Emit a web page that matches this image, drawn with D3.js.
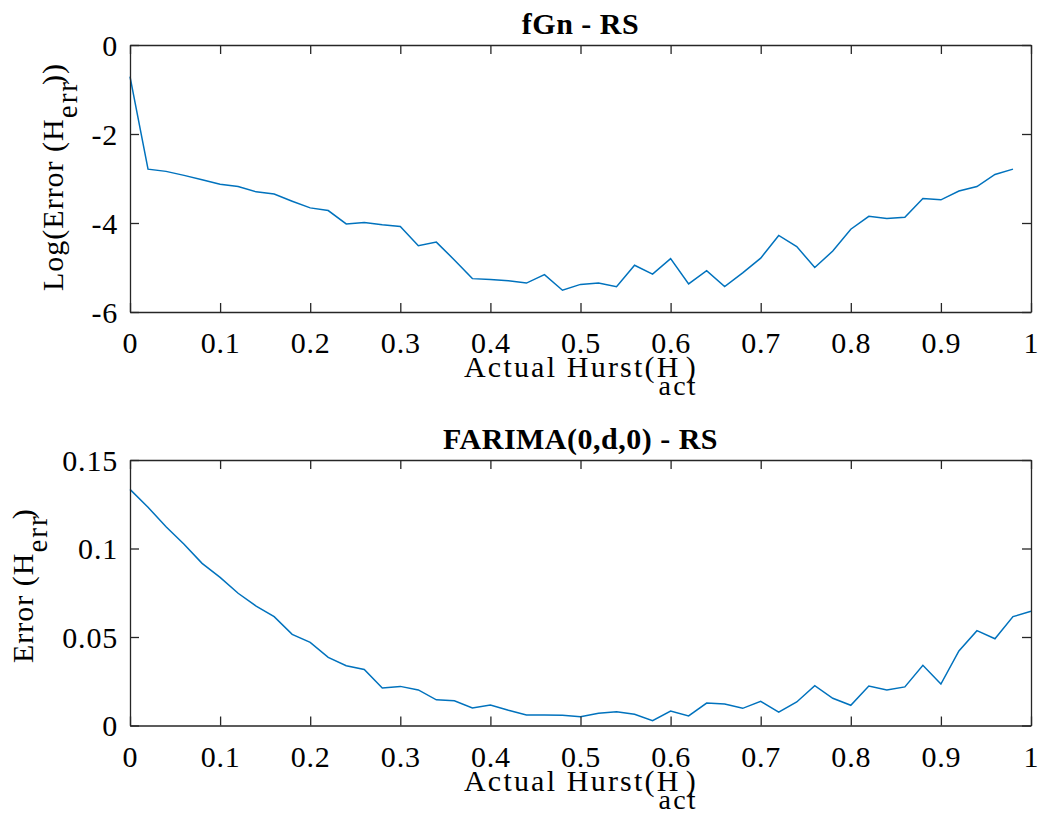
<!DOCTYPE html>
<html>
<head>
<meta charset="utf-8">
<script src="https://cdn.jsdelivr.net/npm/d3@7"></script>
<style>
  body { margin: 0; background: #fff; }
  svg { display: block; }
  .tick text { font-family: 'Liberation Serif', 'Times New Roman', serif; font-size: 30px; letter-spacing: 0.8px; fill: #000; }
  .lbl { font-family: 'Liberation Serif', 'Times New Roman', serif; font-size: 30px; fill: #000; }
  .ttl { font-family: 'Liberation Serif', 'Times New Roman', serif; font-size: 30px; font-weight: bold; letter-spacing: 0.5px; fill: #000; }
</style>
</head>
<body>
<script>
// fGn - RS : actual Hurst vs log error
var hurstTop = [0, 0.02, 0.04, 0.06, 0.08, 0.10, 0.12, 0.14, 0.16, 0.18,
  0.20, 0.22, 0.24, 0.26, 0.28, 0.30, 0.32, 0.34, 0.36, 0.38,
  0.40, 0.42, 0.44, 0.46, 0.48, 0.50, 0.52, 0.54, 0.56, 0.58,
  0.60, 0.62, 0.64, 0.66, 0.68, 0.70, 0.72, 0.74, 0.76, 0.78,
  0.80, 0.82, 0.84, 0.86, 0.88, 0.90, 0.92, 0.94, 0.96, 0.98];
var fgnLogErr = [-0.71, -2.79, -2.84, -2.93, -3.03, -3.13, -3.18, -3.30, -3.35, -3.51,
  -3.66, -3.72, -4.02, -3.99, -4.04, -4.08, -4.51, -4.43, -4.83, -5.25,
  -5.27, -5.30, -5.35, -5.16, -5.51, -5.38, -5.35, -5.43, -4.95, -5.15,
  -4.80, -5.37, -5.07, -5.43, -5.12, -4.79, -4.28, -4.53, -5.00, -4.63,
  -4.14, -3.85, -3.90, -3.87, -3.45, -3.48, -3.28, -3.18, -2.91, -2.79];

// FARIMA(0,d,0) - RS : actual Hurst vs error
var hurstBottom = [0, 0.02, 0.04, 0.06, 0.08, 0.10, 0.12, 0.14, 0.16, 0.18,
  0.20, 0.22, 0.24, 0.26, 0.28, 0.30, 0.32, 0.34, 0.36, 0.38,
  0.40, 0.42, 0.44, 0.46, 0.48, 0.50, 0.52, 0.54, 0.56, 0.58,
  0.60, 0.62, 0.64, 0.66, 0.68, 0.70, 0.72, 0.74, 0.76, 0.78,
  0.80, 0.82, 0.84, 0.86, 0.88, 0.90, 0.92, 0.94, 0.96, 0.98, 1.00];
var farimaErr = [0.1334, 0.1233, 0.1123, 0.1024, 0.0916, 0.0837, 0.0747, 0.0675, 0.0615, 0.0515,
  0.0470, 0.0385, 0.0338, 0.0317, 0.0212, 0.0221, 0.0201, 0.0145, 0.0140, 0.0099,
  0.0116, 0.0086, 0.0059, 0.0059, 0.0058, 0.0050, 0.0069, 0.0078, 0.0063, 0.0027,
  0.0082, 0.0054, 0.0127, 0.0122, 0.0097, 0.0137, 0.0075, 0.0133, 0.0225, 0.0154,
  0.0114, 0.0223, 0.0201, 0.0218, 0.0340, 0.0234, 0.0421, 0.0536, 0.0490, 0.0615, 0.0645];

var xTicks = [0, 0.1, 0.2, 0.3, 0.4, 0.5, 0.6, 0.7, 0.8, 0.9, 1];
var yTicksTop = [0, -2, -4, -6];
var yTicksBottom = [0, 0.05, 0.1, 0.15];

var W = 1038, H = 825;
var left = 130, right = 1031;

var svg = d3.select('body').append('svg')
  .attr('width', W)
  .attr('height', H);

function drawPanel(opts) {
  var x = d3.scaleLinear().domain([0, 1]).range([left, right]);
  var y = d3.scaleLinear().domain(opts.yDomain).range([opts.bottom, opts.top]);
  var g = svg.append('g');
  var fmt = function(d) { return String(d); };

  // data line
  var line = d3.line()
    .x(function(d) { return x(d[0]); })
    .y(function(d) { return y(d[1]); });
  g.append('path')
    .datum(d3.zip(opts.xs, opts.ys))
    .attr('d', line)
    .attr('fill', 'none')
    .attr('stroke', '#0072BD')
    .attr('stroke-width', 1.5);

  // box with inward ticks
  var xb = g.append('g').attr('transform', 'translate(0,' + opts.bottom + ')')
    .call(d3.axisBottom(x).tickValues(xTicks).tickSize(-9).tickSizeOuter(0).tickFormat(fmt));
  xb.selectAll('.tick text').attr('y', 20).attr('dy', '0.71em');
  g.append('g').attr('transform', 'translate(0,' + opts.top + ')')
    .call(d3.axisTop(x).tickValues(xTicks).tickSize(-9).tickSizeOuter(0).tickFormat(''));
  var yl = g.append('g').attr('transform', 'translate(' + left + ',0)')
    .call(d3.axisLeft(y).tickValues(opts.yTicks).tickSize(-9).tickSizeOuter(0).tickFormat(fmt));
  yl.selectAll('.tick text').attr('x', -12).attr('dy', '0.34em');
  g.append('g').attr('transform', 'translate(' + right + ',0)')
    .call(d3.axisRight(y).tickValues(opts.yTicks).tickSize(-9).tickSizeOuter(0).tickFormat(''));

  g.selectAll('.domain, .tick line').attr('stroke', '#262626').attr('stroke-width', 1.3);

  // title
  g.append('text').attr('class', 'ttl')
    .attr('x', (left + right) / 2).attr('y', opts.top - 11)
    .attr('text-anchor', 'middle')
    .text(opts.title);

  // x label (subscript tucked under the H, as in the original export)
  var xt = g.append('text').attr('class', 'lbl')
    .attr('x', 464).attr('y', opts.bottom + 65)
    .style('letter-spacing', '2.2px');
  xt.append('tspan').text('Actual Hurst(H');
  xt.append('tspan').attr('dy', 18).attr('dx', -22).style('font-size', '28px').text('act');
  xt.append('tspan').attr('dy', -18).attr('dx', -12).text(')');

  // y label
  var yt = g.append('text').attr('class', 'lbl')
    .attr('transform', 'translate(' + opts.yLabelX + ',' + opts.yLabelY + ') rotate(-90)')
    .style('letter-spacing', '1px');
  yt.append('tspan').text(opts.yLabel + '(H');
  yt.append('tspan').attr('dy', 14).style('font-size', '29px').style('letter-spacing', '2px').text('err');
  yt.append('tspan').attr('dy', -14).attr('dx', -5).text(opts.yLabelEnd);
}

drawPanel({
  top: 45, bottom: 312,
  yDomain: [-6, 0], yTicks: yTicksTop,
  xs: hurstTop, ys: fgnLogErr,
  title: 'fGn - RS',
  yLabel: 'Log(Error ', yLabelEnd: '))', yLabelX: 63, yLabelY: 291
});

drawPanel({
  top: 460, bottom: 725.5,
  yDomain: [0, 0.15], yTicks: yTicksBottom,
  xs: hurstBottom, ys: farimaErr,
  title: 'FARIMA(0,d,0) - RS',
  yLabel: 'Error ', yLabelEnd: ')', yLabelX: 33, yLabelY: 663
});
</script>
</body>
</html>
